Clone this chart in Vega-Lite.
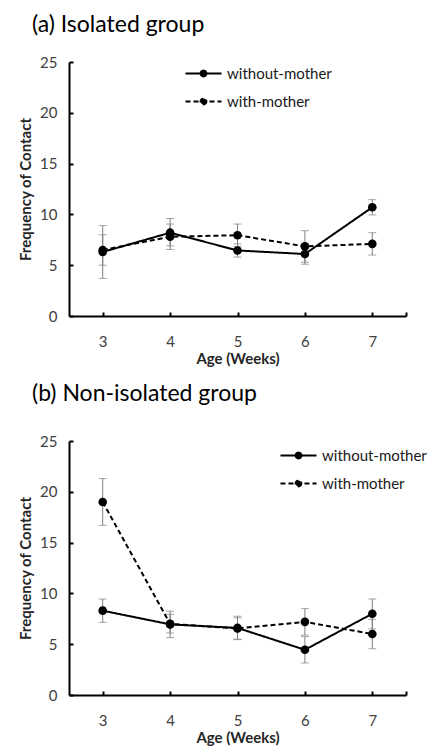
{
  "$schema": "https://vega.github.io/schema/vega-lite/v6.json",
  "background": "white",
  "padding": {"left": 18, "top": 14, "right": 5, "bottom": 2},
  "spacing": 17,
  "datasets": {
    "pts": [
      {"panel": "a", "week": 3, "series": "without-mother", "value": 6.3, "lo": 3.7, "hi": 8.9},
      {"panel": "a", "week": 4, "series": "without-mother", "value": 8.2, "lo": 6.9, "hi": 9.6},
      {"panel": "a", "week": 5, "series": "without-mother", "value": 6.45, "lo": 5.8, "hi": 7.1},
      {"panel": "a", "week": 6, "series": "without-mother", "value": 6.1, "lo": 5.1, "hi": 7.1},
      {"panel": "a", "week": 7, "series": "without-mother", "value": 10.7, "lo": 9.95, "hi": 11.45},
      {"panel": "a", "week": 3, "series": "with-mother", "value": 6.5, "lo": 5.0, "hi": 8.0},
      {"panel": "a", "week": 4, "series": "with-mother", "value": 7.8, "lo": 6.55, "hi": 9.05},
      {"panel": "a", "week": 5, "series": "with-mother", "value": 7.95, "lo": 6.85, "hi": 9.05},
      {"panel": "a", "week": 6, "series": "with-mother", "value": 6.85, "lo": 5.3, "hi": 8.4},
      {"panel": "a", "week": 7, "series": "with-mother", "value": 7.1, "lo": 6.0, "hi": 8.2},
      {"panel": "b", "week": 3, "series": "without-mother", "value": 8.3, "lo": 7.15, "hi": 9.45},
      {"panel": "b", "week": 4, "series": "without-mother", "value": 6.95, "lo": 5.65, "hi": 8.25},
      {"panel": "b", "week": 5, "series": "without-mother", "value": 6.6, "lo": 5.45, "hi": 7.75},
      {"panel": "b", "week": 6, "series": "without-mother", "value": 4.45, "lo": 3.15, "hi": 5.75},
      {"panel": "b", "week": 7, "series": "without-mother", "value": 8.0, "lo": 6.5, "hi": 9.45},
      {"panel": "b", "week": 3, "series": "with-mother", "value": 19.0, "lo": 16.7, "hi": 21.3},
      {"panel": "b", "week": 4, "series": "with-mother", "value": 7.0, "lo": 6.1, "hi": 7.95},
      {"panel": "b", "week": 5, "series": "with-mother", "value": 6.55, "lo": 5.5, "hi": 7.6},
      {"panel": "b", "week": 6, "series": "with-mother", "value": 7.2, "lo": 5.9, "hi": 8.5},
      {"panel": "b", "week": 7, "series": "with-mother", "value": 6.0, "lo": 4.55, "hi": 7.45}
    ]
  },
  "config": {
    "view": {"stroke": null},
    "font": "Lato",
    "axis": {"grid": false, "domainColor": "black", "domainWidth": 2, "tickColor": "black", "tickWidth": 2, "tickSize": -4, "labelFont": "Lato", "labelFontSize": 15, "labelColor": "#404040", "titleFont": "Lato", "titleFontSize": 15, "titleFontWeight": "bold", "titleColor": "#262626"},
    "axisX": {"labelPadding": 22, "titlePadding": 2},
    "axisY": {"labelPadding": 16, "titlePadding": 6}
  },
  "vconcat": [
    {
      "width": 337,
      "height": 254,
      "title": {"text": "(a)  Isolated group", "anchor": "start", "frame": "group", "dx": -37, "offset": 17, "fontSize": 23, "font": "Lato", "fontWeight": "normal", "color": "black"},
      "data": {"name": "pts"},
      "transform": [{"filter": "datum.panel == 'a'"}],
      "encoding": {
        "x": {"field": "week", "type": "quantitative", "title": "Age (Weeks)", "scale": {"domain": [2.5, 7.5], "nice": false, "zero": false}, "axis": {"values": [3, 4, 5, 6, 7, 7.5], "labelExpr": "datum.value == 7.5 ? '' : datum.label"}}
      },
      "layer": [
        {"mark": {"type": "rule", "color": "#7f7f7f", "strokeWidth": 1}, "encoding": {"y": {"field": "lo", "type": "quantitative", "title": "Frequency of Contact", "scale": {"domain": [0, 25], "nice": false}, "axis": {"values": [0, 5, 10, 15, 20, 25]}}, "y2": {"field": "hi"}}},
        {"mark": {"type": "tick", "orient": "horizontal", "color": "#7f7f7f", "size": 8, "thickness": 1}, "encoding": {"y": {"field": "lo", "type": "quantitative", "title": "Frequency of Contact"}}},
        {"mark": {"type": "tick", "orient": "horizontal", "color": "#7f7f7f", "size": 8, "thickness": 1}, "encoding": {"y": {"field": "hi", "type": "quantitative", "title": "Frequency of Contact"}}},
        {"mark": {"type": "line", "color": "black", "strokeWidth": 2}, "encoding": {
          "y": {"field": "value", "type": "quantitative", "title": "Frequency of Contact"},
          "strokeDash": {"field": "series", "type": "nominal", "scale": {"domain": ["without-mother", "with-mother"], "range": [[1, 0], [5, 3]]},
            "legend": {"orient": "none", "legendX": 115, "legendY": -8, "title": null, "symbolType": "M-1,0H1M0.16,0A0.16,0.16 0 1,1 -0.16,0A0.16,0.16 0 1,1 0.16,0Z", "symbolSize": 1300, "symbolStrokeWidth": 2, "symbolStrokeColor": "black", "symbolFillColor": "black", "labelFontSize": 15, "labelColor": "#1a1a1a", "rowPadding": -3}}
        }},
        {"mark": {"type": "circle", "color": "black", "size": 75, "opacity": 1}, "encoding": {"y": {"field": "value", "type": "quantitative", "title": "Frequency of Contact"}}}
      ]
    },
    {
      "width": 337,
      "height": 254,
      "title": {"text": "(b) Non-isolated group", "anchor": "start", "frame": "group", "dx": -37, "offset": 28, "fontSize": 23, "font": "Lato", "fontWeight": "normal", "color": "black"},
      "data": {"name": "pts"},
      "transform": [{"filter": "datum.panel == 'b'"}],
      "encoding": {
        "x": {"field": "week", "type": "quantitative", "title": "Age (Weeks)", "scale": {"domain": [2.5, 7.5], "nice": false, "zero": false}, "axis": {"values": [3, 4, 5, 6, 7, 7.5], "labelExpr": "datum.value == 7.5 ? '' : datum.label"}}
      },
      "layer": [
        {"mark": {"type": "rule", "color": "#7f7f7f", "strokeWidth": 1}, "encoding": {"y": {"field": "lo", "type": "quantitative", "title": "Frequency of Contact", "scale": {"domain": [0, 25], "nice": false}, "axis": {"values": [0, 5, 10, 15, 20, 25]}}, "y2": {"field": "hi"}}},
        {"mark": {"type": "tick", "orient": "horizontal", "color": "#7f7f7f", "size": 8, "thickness": 1}, "encoding": {"y": {"field": "lo", "type": "quantitative", "title": "Frequency of Contact"}}},
        {"mark": {"type": "tick", "orient": "horizontal", "color": "#7f7f7f", "size": 8, "thickness": 1}, "encoding": {"y": {"field": "hi", "type": "quantitative", "title": "Frequency of Contact"}}},
        {"mark": {"type": "line", "color": "black", "strokeWidth": 2}, "encoding": {
          "y": {"field": "value", "type": "quantitative", "title": "Frequency of Contact"},
          "strokeDash": {"field": "series", "type": "nominal", "scale": {"domain": ["without-mother", "with-mother"], "range": [[1, 0], [5, 3]]},
            "legend": {"orient": "none", "legendX": 210, "legendY": -5, "title": null, "symbolType": "M-1,0H1M0.16,0A0.16,0.16 0 1,1 -0.16,0A0.16,0.16 0 1,1 0.16,0Z", "symbolSize": 1300, "symbolStrokeWidth": 2, "symbolStrokeColor": "black", "symbolFillColor": "black", "labelFontSize": 15, "labelColor": "#1a1a1a", "rowPadding": -3}}
        }},
        {"mark": {"type": "circle", "color": "black", "size": 75, "opacity": 1}, "encoding": {"y": {"field": "value", "type": "quantitative", "title": "Frequency of Contact"}}}
      ]
    }
  ],
  "resolve": {"scale": {"strokeDash": "independent"}, "legend": {"strokeDash": "independent"}}
}
